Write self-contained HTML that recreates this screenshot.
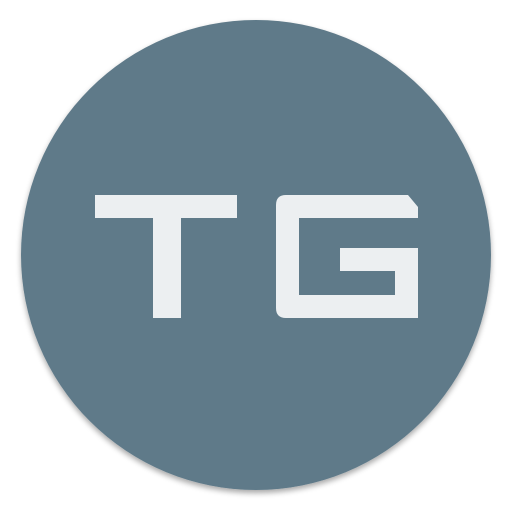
<!DOCTYPE html>
<html>
<head>
<meta charset="utf-8">
<style>
  html,body{margin:0;padding:0;background:#ffffff;}
  svg{display:block;}
  .sr{position:absolute;left:-9999px;font-family:"Liberation Sans",sans-serif;}
</style>
</head>
<body>
<span class="sr">TG</span>
<svg width="512" height="512" viewBox="0 0 512 512">
  <defs>
    <filter id="sh" x="-10%" y="-10%" width="120%" height="125%">
      <feGaussianBlur in="SourceAlpha" stdDeviation="3"/>
      <feOffset dy="3"/>
      <feComponentTransfer><feFuncA type="linear" slope="0.35"/></feComponentTransfer>
      <feMerge><feMergeNode/><feMergeNode in="SourceGraphic"/></feMerge>
    </filter>
  </defs>
  <circle cx="256" cy="255" r="235" fill="#5f7a89" filter="url(#sh)"/>
  <g fill="#eceff1">
    <rect x="95" y="195" width="142" height="23"/>
    <rect x="153" y="195" width="28" height="123"/>
  </g>
  <g fill="#eceff1">
    <path d="M286 195 H408 L418 207 V218 H299 V295 H395 V271 H340 V248 H418 V318 H286 Q276 318 276 308 V205 Q276 195 286 195 Z"/>
  </g>
</svg>
</body>
</html>
